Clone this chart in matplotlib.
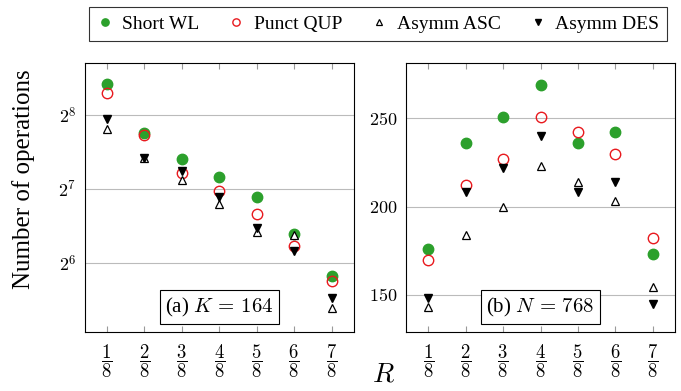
import matplotlib
matplotlib.use("Agg")
import matplotlib.pyplot as plt
from matplotlib.ticker import FixedLocator

plt.rcParams["font.family"] = ["Liberation Serif", "DejaVu Serif"]
plt.rcParams["mathtext.fontset"] = "cm"

R = [1 / 8, 2 / 8, 3 / 8, 4 / 8, 5 / 8, 6 / 8, 7 / 8]
r_labels = [r"$\dfrac{%d}{8}$" % i for i in range(1, 8)]

# (a) K = 164, log2 scale
short_wl_a = [341, 216, 170, 143, 119, 84, 57]
punct_qup_a = [314, 212, 149, 126, 101, 75, 54]
asymm_asc_a = [224, 172, 140, 111, 86, 83, 42]
asymm_des_a = [247, 172, 152, 119, 89, 72, 46]

# (b) N = 768, linear
short_wl_b = [176, 236, 251, 269, 236, 242, 173]
punct_qup_b = [170, 212, 227, 251, 242, 230, 182]
asymm_asc_b = [143, 184, 200, 223, 214, 203, 154.5]
asymm_des_b = [148, 208, 222, 240, 208, 214, 145]

series_names = ["Short WL", "Punct QUP", "Asymm ASC", "Asymm DES"]

fig = plt.figure(figsize=(6.81, 3.91), dpi=100)
W, H = 681, 391
ax1 = fig.add_axes([84.5 / W, (H - 332) / H, 269.5 / W, 269 / H])
ax2 = fig.add_axes([406 / W, (H - 332) / H, 269 / W, 269 / H])


def draw(ax, sets):
    s, p, a, d = sets
    h1, = ax.plot(R, s, "o", color="#2ca02c", ms=7.5, mec="#2ca02c", zorder=3)
    h2, = ax.plot(R, p, "o", mfc="none", mec="#e8191e", ms=7.5, mew=1.0, zorder=4)
    h3, = ax.plot(R, a, "^", mfc="white", mec="black", ms=6, mew=0.9, zorder=5)
    h4, = ax.plot(R, d, "v", color="black", ms=6, zorder=5)
    ax.set_xlim(0.05, 0.95)
    ax.set_xticks(R)
    ax.set_xticklabels(r_labels, fontsize=13.5)
    ax.tick_params(axis="x", direction="in", top=True, length=4, color="#999999", pad=7)
    ax.tick_params(axis="y", length=0, labelsize=13, pad=6)
    ax.grid(axis="y", color="#bbbbbb", linewidth=0.8)
    ax.set_axisbelow(True)
    for sp in ax.spines.values():
        sp.set_linewidth(0.8)
    return [h1, h2, h3, h4]


handles = draw(ax1, [short_wl_a, punct_qup_a, asymm_asc_a, asymm_des_a])
ax1.set_yscale("log", base=2)
ax1.set_ylim(33.6, 417)
ax1.yaxis.set_major_locator(FixedLocator([64, 128, 256]))
ax1.yaxis.set_minor_locator(FixedLocator([]))
ax1.set_yticklabels([r"$2^{6}$", r"$2^{7}$", r"$2^{8}$"])

draw(ax2, [short_wl_b, punct_qup_b, asymm_asc_b, asymm_des_b])
ax2.set_ylim(128.9, 281.4)
ax2.set_yticks([150, 200, 250])
ax2.set_yticklabels([r"$150$", r"$200$", r"$250$"])

box = dict(boxstyle="square,pad=0.25", fc="white", ec="black", lw=0.8)
ax1.text(0.5, 0.05, r"(a) $K\,=\,164$", transform=ax1.transAxes, ha="center",
         va="bottom", fontsize=15, bbox=box, zorder=6)
ax2.text(0.5, 0.05, r"(b) $N\,=\,768$", transform=ax2.transAxes, ha="center",
         va="bottom", fontsize=15, bbox=box, zorder=6)

fig.text(24 / W, 1 - 179 / H, "Number of operations", rotation=90, ha="center",
         va="center", fontsize=18)
fig.text(383 / W, 1 - 375 / H, r"$R$", ha="center", va="center", fontsize=20)

leg = fig.legend(handles, series_names, loc="center", ncol=4,
                 bbox_to_anchor=(378 / W, 1 - 24 / H), fontsize=14,
                 frameon=True, fancybox=False, edgecolor="black",
                 markerscale=0.7, handlelength=0.8, handletextpad=0.5,
                 columnspacing=1.5, borderpad=0.4)
leg.get_frame().set_linewidth(0.8)

fig.savefig("out.png", dpi=100)
